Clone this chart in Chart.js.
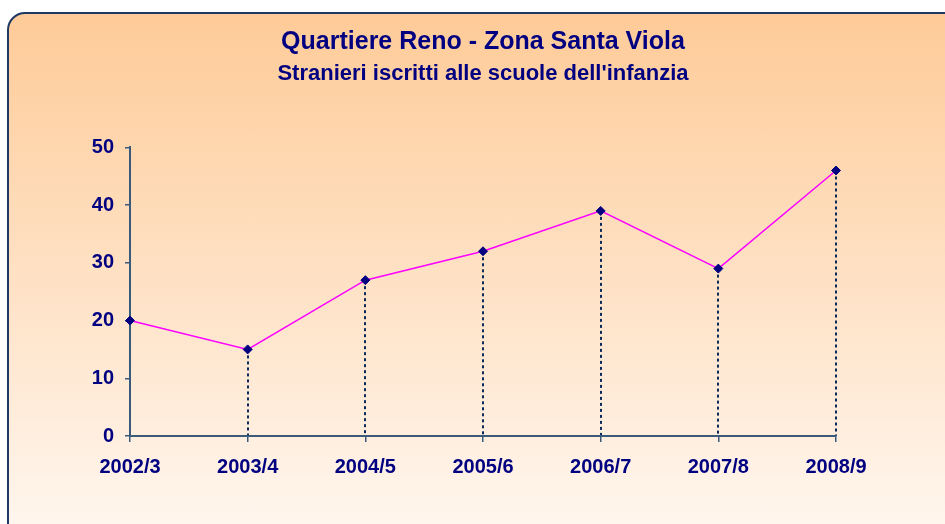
<!DOCTYPE html>
<html>
<head>
<meta charset="utf-8">
<script src="https://cdn.jsdelivr.net/npm/chart.js@4/dist/chart.umd.min.js"></script>
<style>
  html, body { margin: 0; padding: 0; background: #ffffff; }
  body { width: 945px; height: 524px; position: relative; overflow: hidden; }
  #panel {
    position: absolute; left: 7px; top: 12px; width: 980px; height: 560px;
    border: 2px solid #1F3864; border-radius: 18px; box-sizing: border-box;
    background: linear-gradient(to bottom, #FECB98 0px, #FFF6EE 512px);
  }
  #wrap { position: absolute; left: 0; top: 0; width: 945px; height: 524px; }
</style>
</head>
<body>
<div id="panel"></div>
<div id="wrap"><canvas id="chart"></canvas></div>
<script>
const schoolYears = ['2002/3', '2003/4', '2004/5', '2005/6', '2006/7', '2007/8', '2008/9'];
const foreignPupils = [20, 15, 27, 32, 39, 29, 46];

const navy = '#000080';
const axisColor = '#3A5A7C';
const fontFamily = "'Liberation Sans', Arial, sans-serif";

// Dotted drop lines from every point down to the x axis (drawn under the axes)
const dropLines = {
  id: 'dropLines',
  beforeDraw(chart) {
    const ctx = chart.ctx;
    const meta = chart.getDatasetMeta(0);
    const yBase = chart.scales.y.getPixelForValue(0);
    ctx.save();
    ctx.strokeStyle = '#0B2A5A';
    ctx.lineWidth = 2;
    ctx.setLineDash([3, 3]);
    meta.data.forEach(pt => {
      const x = Math.round(pt.x); // keep the dots crisp
      ctx.beginPath();
      ctx.moveTo(x, pt.y);
      ctx.lineTo(x, yBase);
      ctx.stroke();
    });
    ctx.restore();
  }
};

const ctx = document.getElementById('chart').getContext('2d');
new Chart(ctx, {
  type: 'line',
  data: {
    labels: schoolYears,
    datasets: [{
      label: 'Stranieri',
      data: foreignPupils,
      borderColor: '#FF00FF',
      borderWidth: 1.5,
      pointStyle: 'rectRot',
      pointRadius: 4.5,
      pointBackgroundColor: navy,
      pointBorderColor: navy,
      pointBorderWidth: 1,
      tension: 0
    }]
  },
  options: {
    responsive: true,
    maintainAspectRatio: false,
    animation: false,
    layout: { padding: { left: 0, right: 109, top: 0, bottom: 0 } },
    scales: {
      x: {
        offset: false,
        afterFit: s => { s.height = 88; },
        grid: { drawOnChartArea: false, drawTicks: true, tickLength: 6, color: axisColor, lineWidth: 1.5 },
        border: { display: true, color: axisColor, width: 2 },
        ticks: { color: navy, padding: 13, maxRotation: 0, font: { family: fontFamily, size: 20, weight: 'bold' } }
      },
      y: {
        min: 0,
        max: 50,
        afterFit: s => { s.width = 130; },
        grid: { drawOnChartArea: false, drawTicks: true, tickLength: 5, color: axisColor, lineWidth: 1.5 },
        border: { display: true, color: axisColor, width: 2 },
        ticks: { stepSize: 10, color: navy, padding: 11, font: { family: fontFamily, size: 20, weight: 'bold' } }
      }
    },
    plugins: {
      legend: { display: false },
      tooltip: { enabled: false },
      title: {
        display: true,
        fullSize: false,
        text: 'Quartiere Reno - Zona Santa Viola',
        color: navy,
        font: { family: fontFamily, size: 25, weight: 'bold', lineHeight: 1.2 },
        padding: { top: 27, bottom: 0 }
      },
      subtitle: {
        display: true,
        fullSize: false,
        text: "Stranieri iscritti alle scuole dell'infanzia",
        color: navy,
        font: { family: fontFamily, size: 22, weight: 'bold', lineHeight: 1.2 },
        padding: { top: 4, bottom: 60 }
      }
    }
  },
  plugins: [dropLines]
});
</script>
</body>
</html>
